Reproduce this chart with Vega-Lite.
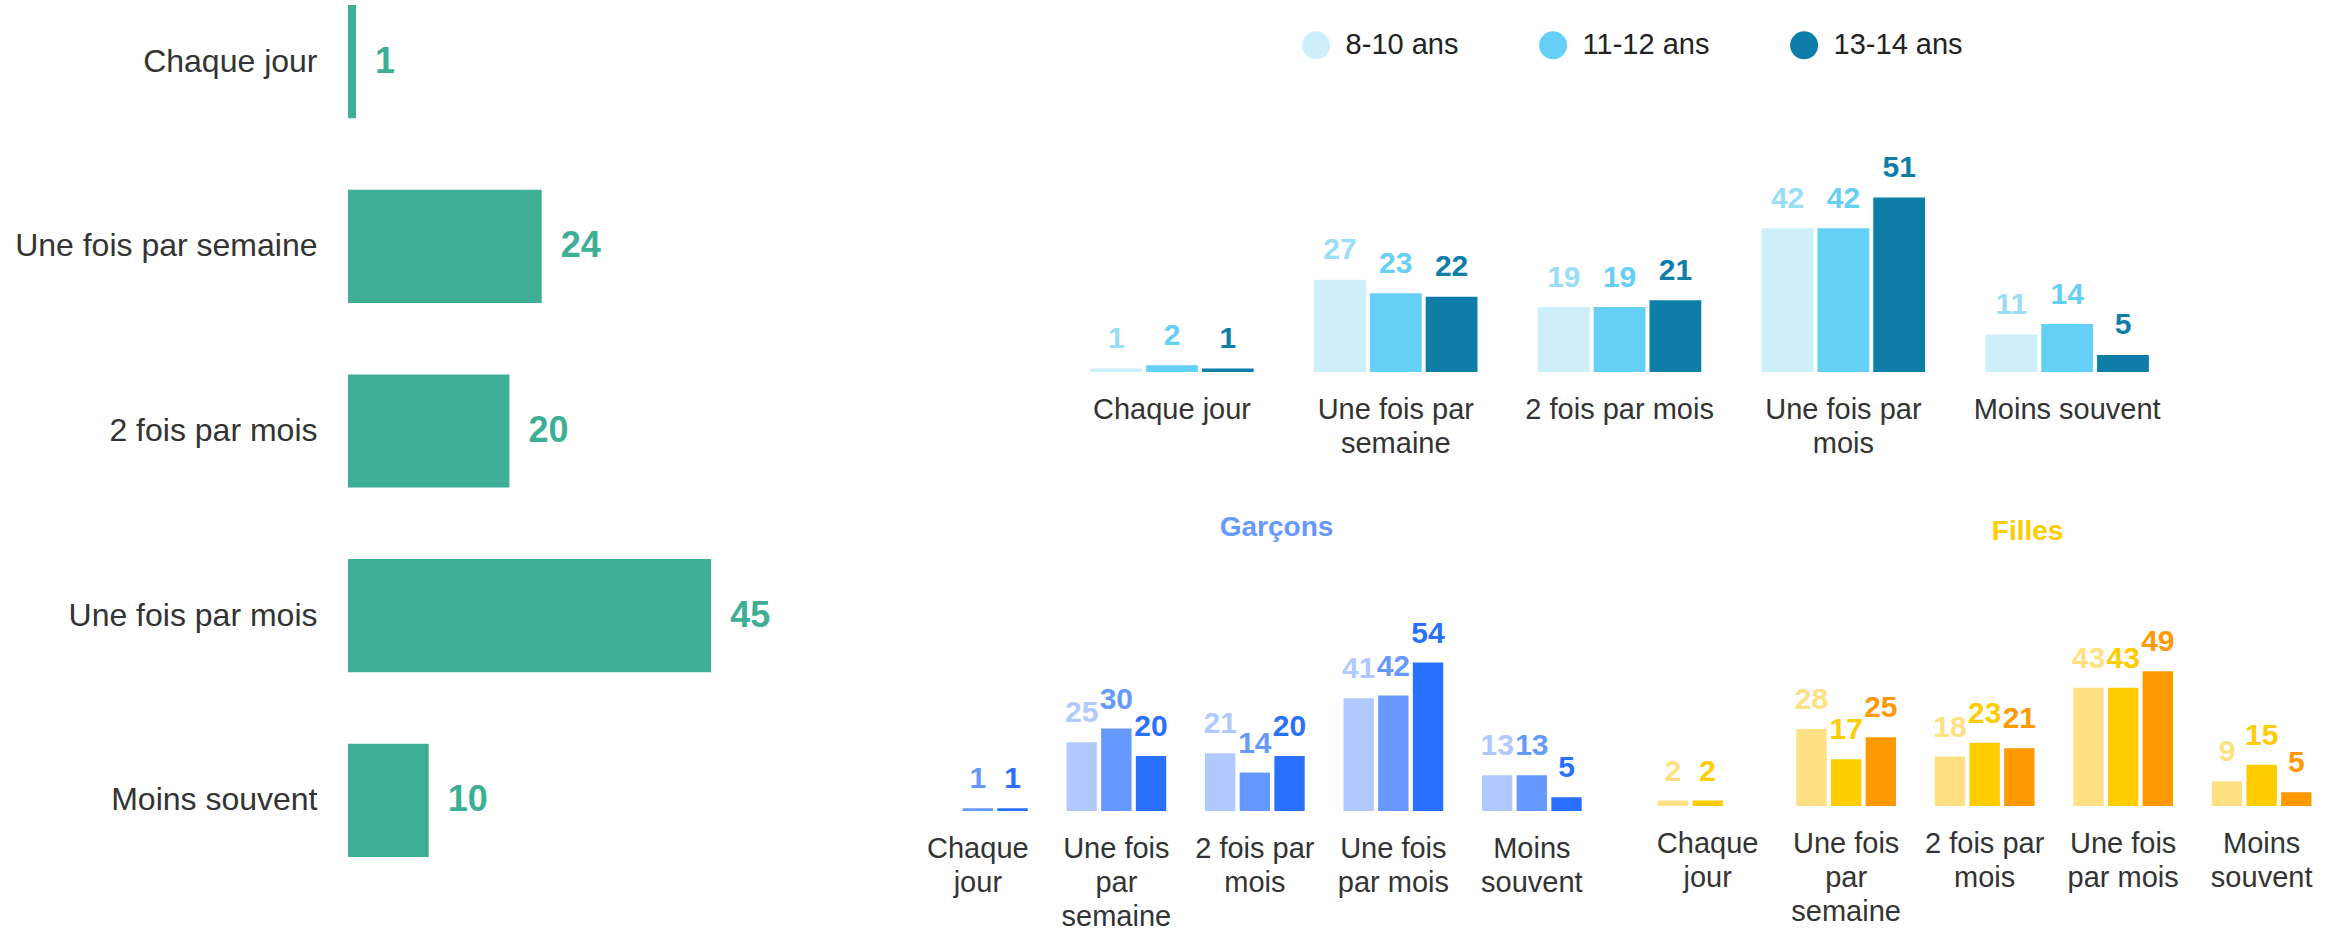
{
  "$schema": "https://vega.github.io/schema/vega-lite/v6.json",
  "padding": {"left": 14, "top": 5, "right": 0, "bottom": 0},
  "autosize": {"type": "pad"},
  "background": "white",
  "config": {
    "view": {"stroke": null},
    "font": "Liberation Sans",
    "axis": {"grid": false}
  },
  "datasets": {
    "left": [
      {"freq": "Chaque jour", "value": 1},
      {"freq": "Une fois par semaine", "value": 24},
      {"freq": "2 fois par mois", "value": 20},
      {"freq": "Une fois par mois", "value": 45},
      {"freq": "Moins souvent", "value": 10}
    ],
    "top": [
      {"freq": "Chaque jour", "age": "8-10 ans", "value": 1},
      {"freq": "Chaque jour", "age": "11-12 ans", "value": 2},
      {"freq": "Chaque jour", "age": "13-14 ans", "value": 1},
      {"freq": "Une fois par semaine", "age": "8-10 ans", "value": 27},
      {"freq": "Une fois par semaine", "age": "11-12 ans", "value": 23},
      {"freq": "Une fois par semaine", "age": "13-14 ans", "value": 22},
      {"freq": "2 fois par mois", "age": "8-10 ans", "value": 19},
      {"freq": "2 fois par mois", "age": "11-12 ans", "value": 19},
      {"freq": "2 fois par mois", "age": "13-14 ans", "value": 21},
      {"freq": "Une fois par mois", "age": "8-10 ans", "value": 42},
      {"freq": "Une fois par mois", "age": "11-12 ans", "value": 42},
      {"freq": "Une fois par mois", "age": "13-14 ans", "value": 51},
      {"freq": "Moins souvent", "age": "8-10 ans", "value": 11},
      {"freq": "Moins souvent", "age": "11-12 ans", "value": 14},
      {"freq": "Moins souvent", "age": "13-14 ans", "value": 5}
    ],
    "garcons": [
      {"freq": "Chaque jour", "age": "11-12 ans", "value": 1},
      {"freq": "Chaque jour", "age": "13-14 ans", "value": 1},
      {"freq": "Une fois par semaine", "age": "8-10 ans", "value": 25},
      {"freq": "Une fois par semaine", "age": "11-12 ans", "value": 30},
      {"freq": "Une fois par semaine", "age": "13-14 ans", "value": 20},
      {"freq": "2 fois par mois", "age": "8-10 ans", "value": 21},
      {"freq": "2 fois par mois", "age": "11-12 ans", "value": 14},
      {"freq": "2 fois par mois", "age": "13-14 ans", "value": 20},
      {"freq": "Une fois par mois", "age": "8-10 ans", "value": 41},
      {"freq": "Une fois par mois", "age": "11-12 ans", "value": 42},
      {"freq": "Une fois par mois", "age": "13-14 ans", "value": 54},
      {"freq": "Moins souvent", "age": "8-10 ans", "value": 13},
      {"freq": "Moins souvent", "age": "11-12 ans", "value": 13},
      {"freq": "Moins souvent", "age": "13-14 ans", "value": 5}
    ],
    "filles": [
      {"freq": "Chaque jour", "age": "8-10 ans", "value": 2},
      {"freq": "Chaque jour", "age": "11-12 ans", "value": 2},
      {"freq": "Une fois par semaine", "age": "8-10 ans", "value": 28},
      {"freq": "Une fois par semaine", "age": "11-12 ans", "value": 17},
      {"freq": "Une fois par semaine", "age": "13-14 ans", "value": 25},
      {"freq": "2 fois par mois", "age": "8-10 ans", "value": 18},
      {"freq": "2 fois par mois", "age": "11-12 ans", "value": 23},
      {"freq": "2 fois par mois", "age": "13-14 ans", "value": 21},
      {"freq": "Une fois par mois", "age": "8-10 ans", "value": 43},
      {"freq": "Une fois par mois", "age": "11-12 ans", "value": 43},
      {"freq": "Une fois par mois", "age": "13-14 ans", "value": 49},
      {"freq": "Moins souvent", "age": "8-10 ans", "value": 9},
      {"freq": "Moins souvent", "age": "11-12 ans", "value": 15},
      {"freq": "Moins souvent", "age": "13-14 ans", "value": 5}
    ]
  },
  "bounds": "flush",
  "spacing": 75.6,
  "hconcat": [
    {
      "width": 484.2,
      "height": 852,
      "data": {"name": "left"},
      "encoding": {
        "y": {
          "field": "freq", "type": "nominal",
          "sort": ["Chaque jour", "Une fois par semaine", "2 fois par mois", "Une fois par mois", "Moins souvent"],
          "scale": {"paddingInner": 0.387, "paddingOuter": 0},
          "axis": {"title": null, "domain": false, "ticks": false, "tickSize": 0, "labelPadding": 31, "labelFontSize": 32, "labelColor": "#333333", "labelLimit": 0}
        },
        "x": {"field": "value", "type": "quantitative", "scale": {"domain": [0, 60]}, "axis": null}
      },
      "layer": [
        {"mark": {"type": "bar", "color": "#3EAE94"}},
        {"mark": {"type": "text", "align": "left", "baseline": "middle", "dx": 19, "fontSize": 36, "fontWeight": "bold", "color": "#3EAE94"},
         "encoding": {"text": {"field": "value", "type": "quantitative"}}}
      ]
    },
    {
      "bounds": "flush",
      "spacing": 188,
      "vconcat": [
        {
          "width": 1422,
          "height": 367,
          "data": {"name": "top"},
          "encoding": {
            "x": {
              "field": "freq", "type": "nominal",
              "sort": ["Chaque jour", "Une fois par semaine", "2 fois par mois", "Une fois par mois", "Moins souvent"],
              "scale": {"paddingInner": 0.27, "paddingOuter": 0.812},
              "axis": {"title": null, "domain": false, "ticks": false, "tickSize": 0, "labelPadding": 23, "labelAngle": 0, "labelFontSize": 29, "labelLineHeight": 34, "labelColor": "#333333", "labelOverlap": false, "labelLimit": 0,
                "labelExpr": "datum.value == 'Une fois par semaine' ? ['Une fois par', 'semaine'] : datum.value == 'Une fois par mois' ? ['Une fois par', 'mois'] : datum.value"}
            },
            "xOffset": {"field": "age", "type": "nominal", "sort": ["8-10 ans", "11-12 ans", "13-14 ans"], "scale": {"domain": ["8-10 ans", "11-12 ans", "13-14 ans"], "paddingInner": 0.0714, "paddingOuter": 0}},
            "y": {"field": "value", "type": "quantitative", "scale": {"domain": [0, 107.3]}, "axis": null}
          },
          "layer": [
            {"mark": {"type": "bar"},
             "encoding": {"color": {"field": "age", "type": "nominal",
               "scale": {"domain": ["8-10 ans", "11-12 ans", "13-14 ans"], "range": ["#CCEFFB", "#66CFF5", "#0E7EA9"]},
               "legend": {"title": null, "orient": "none", "legendX": 393, "legendY": 25.6, "direction": "horizontal", "symbolType": "circle", "symbolSize": 784, "symbolStrokeWidth": 0, "symbolOpacity": 1, "labelFontSize": 29, "labelColor": "#222222", "labelOffset": 15, "columnPadding": 80, "padding": 0, "labelLimit": 0}}}},
            {"mark": {"type": "text", "baseline": "alphabetic", "dy": -20.5, "fontSize": 30, "fontWeight": "bold"},
             "encoding": {
               "text": {"field": "value", "type": "quantitative"},
               "color": {"field": "age", "type": "nominal", "scale": {"domain": ["8-10 ans", "11-12 ans", "13-14 ans"], "range": ["#99DDF7", "#66CFF5", "#0E7EA9"]}, "legend": null}}}
          ],
          "resolve": {"scale": {"color": "independent"}}
        },
        {
          "bounds": "flush",
          "spacing": 36.8,
          "hconcat": [
            {
              "width": 692.5,
              "height": 251,
              "title": {"text": "Garçons", "color": "#6699FF", "fontSize": 28, "fontWeight": "bold", "anchor": "middle", "dx": 21.7, "offset": 18},
              "data": {"name": "garcons"},
              "encoding": {
                "x": {
                  "field": "freq", "type": "nominal",
                  "sort": ["Chaque jour", "Une fois par semaine", "2 fois par mois", "Une fois par mois", "Moins souvent"],
                  "scale": {"paddingInner": 0.28, "paddingOuter": 0.14},
                  "axis": {"title": null, "domain": false, "ticks": false, "tickSize": 0, "labelPadding": 23, "labelAngle": 0, "labelFontSize": 29, "labelLineHeight": 34, "labelColor": "#333333", "labelOverlap": false, "labelLimit": 0,
                    "labelExpr": "datum.value == 'Chaque jour' ? ['Chaque', 'jour'] : datum.value == 'Une fois par semaine' ? ['Une fois', 'par', 'semaine'] : datum.value == '2 fois par mois' ? ['2 fois par', 'mois'] : datum.value == 'Une fois par mois' ? ['Une fois', 'par mois'] : ['Moins', 'souvent']"}
                },
                "xOffset": {"field": "age", "type": "nominal", "sort": ["8-10 ans", "11-12 ans", "13-14 ans"], "scale": {"domain": ["8-10 ans", "11-12 ans", "13-14 ans"], "paddingInner": 0.124, "paddingOuter": 0}},
                "y": {"field": "value", "type": "quantitative", "scale": {"domain": [0, 91.3]}, "axis": null},
                "color": {"field": "age", "type": "nominal", "scale": {"domain": ["8-10 ans", "11-12 ans", "13-14 ans"], "range": ["#B0CAFF", "#6699FF", "#2970FF"]}, "legend": null}
              },
              "layer": [
                {"mark": {"type": "bar"}},
                {"mark": {"type": "text", "baseline": "alphabetic", "dy": -20, "fontSize": 30, "fontWeight": "bold"},
                 "encoding": {"text": {"field": "value", "type": "quantitative"}}}
              ]
            },
            {
              "width": 692.5,
              "height": 246,
              "title": {"text": "Filles", "color": "#FFCC00", "fontSize": 28, "fontWeight": "bold", "anchor": "middle", "dx": 43, "offset": 14},
              "data": {"name": "filles"},
              "encoding": {
                "x": {
                  "field": "freq", "type": "nominal",
                  "sort": ["Chaque jour", "Une fois par semaine", "2 fois par mois", "Une fois par mois", "Moins souvent"],
                  "scale": {"paddingInner": 0.28, "paddingOuter": 0.14},
                  "axis": {"title": null, "domain": false, "ticks": false, "tickSize": 0, "labelPadding": 23, "labelAngle": 0, "labelFontSize": 29, "labelLineHeight": 34, "labelColor": "#333333", "labelOverlap": false, "labelLimit": 0,
                    "labelExpr": "datum.value == 'Chaque jour' ? ['Chaque', 'jour'] : datum.value == 'Une fois par semaine' ? ['Une fois', 'par', 'semaine'] : datum.value == '2 fois par mois' ? ['2 fois par', 'mois'] : datum.value == 'Une fois par mois' ? ['Une fois', 'par mois'] : ['Moins', 'souvent']"}
                },
                "xOffset": {"field": "age", "type": "nominal", "sort": ["8-10 ans", "11-12 ans", "13-14 ans"], "scale": {"domain": ["8-10 ans", "11-12 ans", "13-14 ans"], "paddingInner": 0.124, "paddingOuter": 0}},
                "y": {"field": "value", "type": "quantitative", "scale": {"domain": [0, 89.5]}, "axis": null},
                "color": {"field": "age", "type": "nominal", "scale": {"domain": ["8-10 ans", "11-12 ans", "13-14 ans"], "range": ["#FFE082", "#FFCC00", "#FF9900"]}, "legend": null}
              },
              "layer": [
                {"mark": {"type": "bar"}},
                {"mark": {"type": "text", "baseline": "alphabetic", "dy": -20, "fontSize": 30, "fontWeight": "bold"},
                 "encoding": {"text": {"field": "value", "type": "quantitative"}}}
              ]
            }
          ],
          "resolve": {"scale": {"color": "independent", "x": "independent", "y": "independent", "xOffset": "independent"}}
        }
      ],
      "resolve": {"scale": {"color": "independent", "x": "independent", "y": "independent", "xOffset": "independent"}}
    }
  ],
  "resolve": {"scale": {"color": "independent", "x": "independent", "y": "independent"}}
}
